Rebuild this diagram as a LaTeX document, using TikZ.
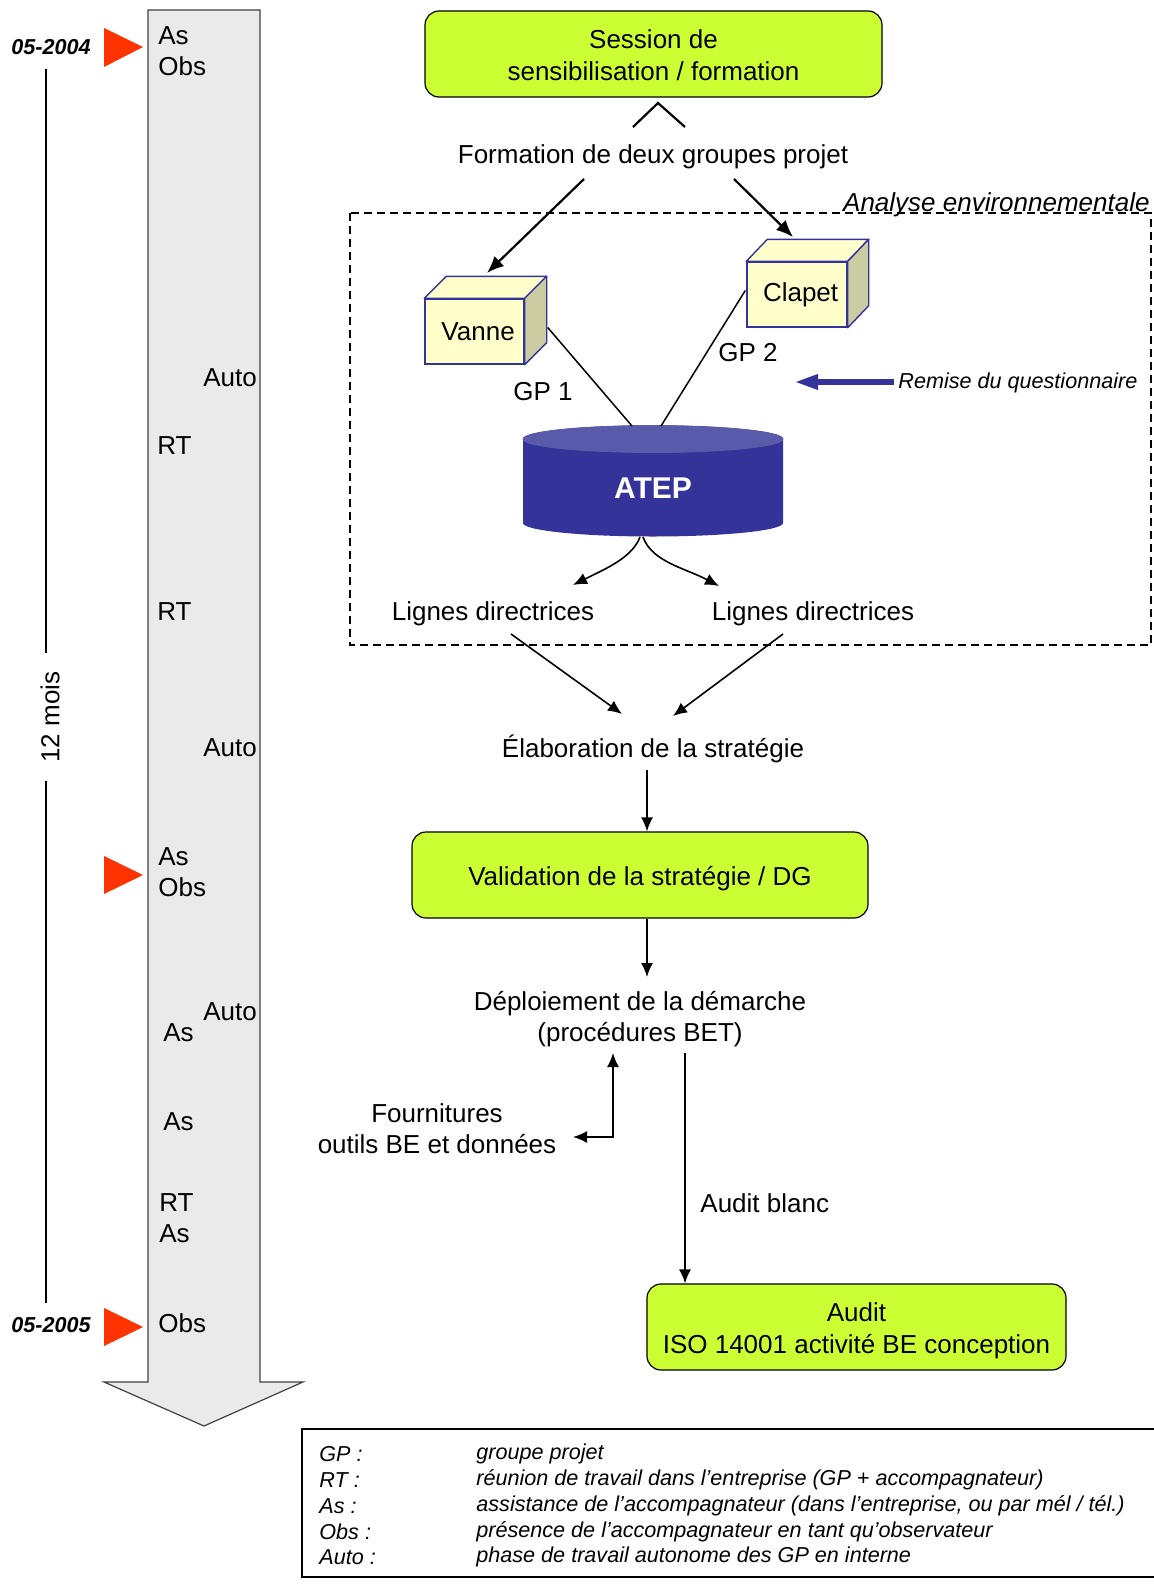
\documentclass[tikz,border=0pt]{standalone}
\usepackage{fontspec}
\setmainfont{Liberation Sans}
\usetikzlibrary{arrows.meta,calc}
\definecolor{boxgreen}{RGB}{204,255,51}
\definecolor{arrowgray}{RGB}{234,234,234}
\definecolor{redtri}{RGB}{255,51,0}
\definecolor{cubefront}{RGB}{255,255,204}
\definecolor{cubeside}{RGB}{204,204,163}
\definecolor{cubeborder}{RGB}{51,51,153}
\definecolor{atepblue}{RGB}{51,51,153}
\definecolor{ateptop}{RGB}{90,90,170}
\begin{document}
\begin{tikzpicture}[x=0.5pt,y=-0.5pt,
  txt/.style={font=\fontsize{13}{15.5}\selectfont, inner sep=0pt, align=center},
  lbl/.style={font=\fontsize{13}{15.5}\selectfont, inner sep=0pt, anchor=west},
  legtxt/.style={font=\fontsize{10.8}{13}\selectfont\itshape, inner sep=0pt, anchor=west},
  datetxt/.style={font=\fontsize{10.8}{13}\selectfont\bfseries\itshape, inner sep=0pt, anchor=west},
  greenbox/.style={draw=black, fill=boxgreen, rounded corners=7pt, line width=0.6pt,
     inner sep=0pt, minimum height=43pt},
  boxtext/.style={font=\fontsize{13}{15.8}\selectfont, align=center, inner sep=0pt, yshift=-1.8pt},
  cubefr/.style={draw=cubeborder, fill=cubefront, line width=0.7pt, inner sep=0pt,
     minimum width=49.5pt, minimum height=32.5pt},
  cubetext/.style={font=\fontsize{13}{15.5}\selectfont, inner sep=0pt, xshift=1.8pt},
  cubetop/.style={draw=cubeborder, fill=cubefront, line width=0.7pt, line join=round},
  cubesd/.style={draw=cubeborder, fill=cubeside, line width=0.7pt, line join=round},
  arrbig/.style={-{Latex[length=8.5pt,width=7pt]}, line width=1.1pt},
  arr/.style={-{Latex[length=7pt,width=6pt]}, line width=0.8pt},
  plain/.style={line width=0.75pt},
  redmark/.style={fill=redtri},
]
\useasboundingbox (0,0) rectangle (1154,1584);

% ---- time arrow ----
\filldraw[fill=arrowgray, draw=black!75, line width=0.6pt]
  (148,10) -- (260,10) -- (260,1382) -- (303,1382) -- (204,1426) -- (104,1382) -- (148,1382) -- cycle;

\fill[redmark] (104,28) -- (104,67) -- (143,47) -- cycle;
\fill[redmark] (104,856) -- (104,894) -- (143,875) -- cycle;
\fill[redmark] (104,1308) -- (104,1346) -- (143,1327) -- cycle;

\node[datetxt] (d1) at (11,47) {05-2004};
\node[datetxt] (d2) at (11,1325) {05-2005};

\node[txt, rotate=90, inner sep=9pt] (mois) at (50,717) {12 mois};
\coordinate (mtop) at (46,69);
\coordinate (mbot) at (46,1303);
\draw[line width=0.6pt] (mtop) -- (mtop |- mois.east);
\draw[line width=0.6pt] (mbot |- mois.west) -- (mbot);

\node[lbl] (l1) at (158,36) {As};
\node[lbl] (l2) at (158,66) {Obs};
\node[lbl] (l3) at (203,378) {Auto};
\node[lbl] (l4) at (157,446) {RT};
\node[lbl] (l5) at (157,612) {RT};
\node[lbl] (l6) at (203,748) {Auto};
\node[lbl] (l7) at (158,857) {As};
\node[lbl] (l8) at (158,887) {Obs};
\node[lbl] (l9) at (203,1012) {Auto};
\node[lbl] (l10) at (163,1033) {As};
\node[lbl] (l11) at (163,1122) {As};
\node[lbl] (l12) at (159,1203) {RT};
\node[lbl] (l13) at (159,1234) {As};
\node[lbl] (l14) at (158,1323) {Obs};

% ---- main flow ----
\node[greenbox, minimum width=228.5pt, label={[boxtext, yshift=1.1pt]center:Session de\\sensibilisation / formation}] (session) at (653.5,54) {};
\coordinate (c1) at (633,127);
\coordinate (c2) at (658,103);
\coordinate (c3) at (685,127);
\draw[line width=1.1pt] (c1) -- (c2) -- (c3);

\node[txt] (formation) at (653,157) {Formation de deux groupes projet};

% dashed frame
\draw[dashed, dash pattern=on 4pt off 2.5pt, line width=0.6pt] (350,213) rectangle (1151,645);
\node[font=\fontsize{13}{15.5}\selectfont\itshape, inner sep=0pt, anchor=base east] (analyse) at (1150,211) {Analyse environnementale};

% cubes
\node[cubefr, label={[cubetext]center:Vanne}] (vanne) at (474.5,331.5) {};
\filldraw[cubetop] (vanne.north west) -- ++(22,-22) -- ($(vanne.north east)+(22,-22)$) -- (vanne.north east) -- cycle;
\filldraw[cubesd] (vanne.north east) -- ++(22,-22) -- ($(vanne.south east)+(22,-22)$) -- (vanne.south east) -- cycle;

\node[cubefr, minimum width=50pt, label={[cubetext]center:Clapet}] (clapet) at (797,294.5) {};
\filldraw[cubetop] (clapet.north west) -- ++(21,-22) -- ($(clapet.north east)+(21,-22)$) -- (clapet.north east) -- cycle;
\filldraw[cubesd] (clapet.north east) -- ++(21,-22) -- ($(clapet.south east)+(21,-22)$) -- (clapet.south east) -- cycle;

\coordinate (fL) at (584,179);
\coordinate (fR) at (734,179);
\coordinate (vtop) at (487,273);
\coordinate (ctop) at (793,237);
\draw[arrbig] (fL) -- (vtop);
\draw[arrbig] (fR) -- (ctop);

% ATEP cylinder
\fill[atepblue] (523,439) -- (523,523) arc[start angle=180,end angle=360,x radius=65pt,y radius=6.75pt] -- (783,439)
   arc[start angle=0,end angle=180,x radius=65pt,y radius=6.75pt] -- cycle;
\filldraw[fill=ateptop, draw=atepblue!80!white, line width=0.4pt] (653,439) ellipse[x radius=65pt, y radius=6.75pt];
\node[font=\fontsize{15}{18}\selectfont\bfseries, text=white, inner sep=0pt] (atep) at (653,488) {ATEP};
\coordinate (atepL) at (632,426);
\coordinate (atepR) at (661,426);
\coordinate (atepB1) at (640,537);
\coordinate (atepB2) at (643,537);

\draw[plain] ($(vanne.east)+(23,-4)$) -- (atepL);
\draw[plain] ($(clapet.west)+(-1,-4)$) -- (atepR);

\node[txt] (gp1) at (543,392) {GP 1};
\node[txt] (gp2) at (748,353) {GP 2};

% Remise du questionnaire
\node[font=\fontsize{10.8}{13}\selectfont\itshape, inner sep=0pt, anchor=west] (remise) at (898,383) {Remise du questionnaire};
\coordinate (rtip) at (794,382);
\draw[atepblue, line width=3pt, -{Triangle[length=12pt,width=7pt]}] ($(remise.west)+(-4,-1)$) -- (rtip);

% lignes directrices
\node[txt] (lig1) at (493,614) {Lignes directrices};
\node[txt] (lig2) at (813,614) {Lignes directrices};
\coordinate (t1) at (573,585);
\coordinate (t2) at (719,586);
\draw[arr] (atepB1) .. controls (632,558) and (605,569) .. (t1);
\draw[arr] (atepB2) .. controls (652,562) and (685,568) .. (t2);

\node[txt] (elab) at (653,749) {Élaboration de la stratégie};
\coordinate (e1) at (511,634);
\coordinate (e2) at (783,634);
\coordinate (e1t) at (622,714);
\coordinate (e2t) at (673,716);
\draw[arr] (e1) -- (e1t);
\draw[arr] (e2) -- (e2t);

\node[greenbox, minimum width=228pt, label={[boxtext]center:Validation de la stratégie / DG}] (valid) at (640,875) {};
\coordinate (v1) at (647,770);
\draw[arr] (v1) -- (v1 |- valid.north);

\node[txt] (depl) at (640,1019) {Déploiement de la démarche\\(procédures BET)};
\coordinate (dv) at (647,930);
\draw[arr] (valid.south -| dv) -- (647,977);

\node[txt] (fourn) at (437,1129) {Fournitures\\outils BE et données};
\coordinate (fa) at (573,1137);
\coordinate (fb) at (613,1137);
\coordinate (fc) at (613,1053);
\draw[{Latex[length=7pt,width=6pt]}-{Latex[length=7pt,width=6pt]}, line width=0.8pt] (fa) -- (fb) -- (fc);

\node[greenbox, minimum width=209.5pt, label={[boxtext]center:Audit\\ISO 14001 activité BE conception}] (audit) at (856.5,1327) {};
\coordinate (ab) at (685,1053);
\draw[arr] (ab) -- (audit.north -| ab);
\node[lbl] (auditblanc) at (700,1203) {Audit blanc};

% ---- legend ----
\draw[line width=1pt] (1160,1429) -- (302,1429) -- (302,1577) -- (1160,1577);
\node[legtxt] (k1) at (319,1454) {GP :};
\node[legtxt] (k2) at (319,1480) {RT :};
\node[legtxt] (k3) at (319,1506) {As :};
\node[legtxt] (k4) at (319,1532) {Obs :};
\node[legtxt] (k5) at (319,1557) {Auto :};
\node[legtxt] (v1t) at (476,1454) {groupe projet};
\node[legtxt] (v2t) at (476,1480) {réunion de travail dans l’entreprise (GP + accompagnateur)};
\node[legtxt] (v3t) at (476,1506) {assistance de l’accompagnateur (dans l’entreprise, ou par mél / tél.)};
\node[legtxt] (v4t) at (476,1532) {présence de l’accompagnateur en tant qu’observateur};
\node[legtxt] (v5t) at (476,1557) {phase de travail autonome des GP en interne};
\end{tikzpicture}
\end{document}
